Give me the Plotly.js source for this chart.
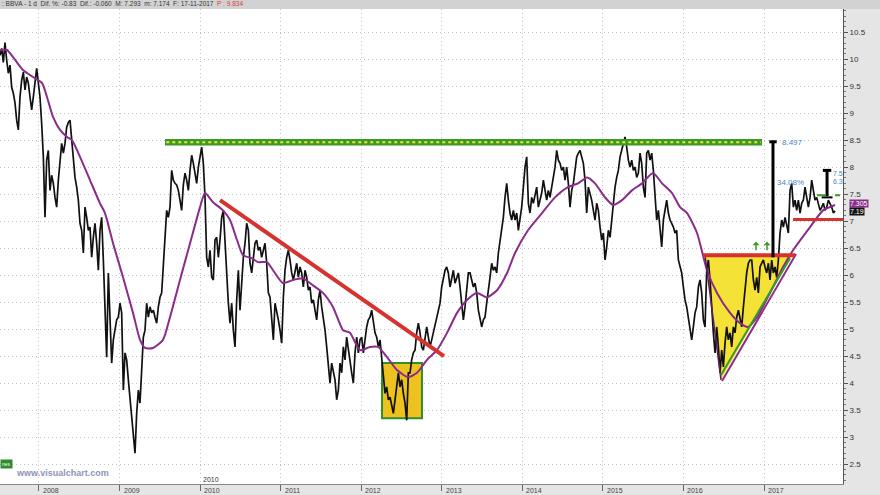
<!DOCTYPE html>
<html><head><meta charset="utf-8">
<script src="https://cdn.plot.ly/plotly-3.0.1.min.js"></script>
<style>html,body{margin:0;padding:0;background:#e6e6e6}#chart{width:880px;height:495px}</style>
</head><body><div id="chart"></div>
<script>
// BBVA daily closes, sampled about weekly (first bar ~ July 2007)
const priceStartYear = 2007.516;
const priceStepYears = 0.020689;
const price2007_2009 = [10.07,10.20,9.94,10.31,9.98,9.74,9.89,9.48,9.37,9.19,
8.87,8.69,9.30,9.61,9.76,9.43,9.67,9.56,9.30,9.06,
9.30,9.61,9.83,9.56,9.30,8.81,8.19,7.07,8.13,8.31,
7.57,7.85,7.70,7.44,7.26,7.76,8.07,8.44,8.26,8.44,
8.74,8.83,8.87,8.50,8.13,7.81,7.63,7.39,6.96,6.83,
6.41,7.26,7.07,6.83,6.89,6.33,6.70,6.96,6.59,6.09,
6.83,7.07,6.28,5.48,4.48,6.04,5.30,4.37,4.80,4.98,
5.17,5.22,5.48,5.30,3.87,4.56,4.43,4.06,3.74,3.44,
3.13,2.70,3.44,3.87,3.63,4.37,4.85,4.98,5.48,5.22,
5.41,5.30,5.35,5.22,5.11,5.41,5.59,5.67,6.22,6.70,
7.20,7.07,7.26,7.94,7.76,7.70];
const price2009_2011 = [7.67,7.57,7.39,7.20,7.67,7.89,7.76,7.57,7.94,8.22,
8.07,7.89,7.70,8.00,8.22,8.37,8.07,7.44,6.33,6.15,
6.46,5.96,5.91,6.65,6.70,6.33,6.65,7.07,7.20,6.65,
5.91,5.48,5.11,5.48,4.98,4.67,5.54,6.09,5.35,5.91,
6.33,6.59,6.96,6.83,6.22,6.04,6.33,6.59,6.65,6.46,
6.52,6.33,6.46,6.59,6.22,5.67,5.59,5.22,4.80,5.48,
5.35,5.17,4.98,4.74,5.59,6.09,6.33,6.46,6.28,6.04,
5.91,6.09,6.22,5.96,6.15,6.04,5.78,6.09,5.96,5.72,
5.78,5.48,5.54,5.35,5.17,5.54,5.72,5.41,5.22,4.98,
4.67,4.37,4.00,4.37,4.24,4.06,3.69,3.87,4.37,4.19,
4.67];
const price2011_2013 = [4.43,4.85,4.61,4.43,4.19,4.00,4.56,4.85,4.56,4.80,
4.85,4.56,4.85,5.04,5.17,5.22,5.35,5.17,4.93,4.85,
4.67,4.80,4.43,4.06,3.81,3.93,3.69,3.74,3.56,3.44,
3.69,3.93,4.19,3.93,4.06,3.81,3.63,3.31,4.19,4.19,
4.43,4.56,4.61,4.93,5.11,4.93,4.67,4.61,4.80,5.04,
4.85,4.67,4.80,4.93,5.04,5.17,5.30,5.48,5.78,5.96,
6.09,6.15,6.04,5.78,5.96,6.09,5.85,5.96,6.04,5.78,
5.41,5.17,5.41,5.78,6.04,6.04,5.91,5.78,5.85,5.67,
5.35,5.17,5.04,5.17,5.22,5.48,5.78,5.96,6.22,6.09,
6.15,6.04,6.41,6.65,6.89,7.07,7.44,7.70,7.39,7.15,
7.02];
const price2013_2015 = [7.20,7.02,7.15,6.83,7.02,7.26,7.63,8.00,8.19,7.33,
7.15,7.44,7.33,7.52,7.63,7.26,7.39,7.52,7.76,7.52,
7.39,7.57,7.44,7.63,7.81,8.00,8.31,8.13,8.07,7.94,
8.00,7.76,8.00,7.70,7.26,7.57,7.70,7.94,8.19,8.26,
8.31,8.19,8.07,7.76,7.15,7.63,7.52,7.39,7.20,7.02,
7.33,7.20,6.89,6.65,6.78,6.28,6.52,6.83,6.70,7.02,
7.26,7.63,7.81,7.94,8.19,8.31,8.44,8.56,8.37,8.13,
8.00,8.13,7.94,8.00,7.81,7.89,8.26,8.07,7.63,7.44,
8.26,8.31,8.13,8.26,7.94,7.39,7.02,7.20,6.89,6.52,
7.02,7.20,7.39,7.15,7.02,6.96,6.89,6.78,6.83,6.28,
6.15];
const price2015_2017 = [6.04,5.78,5.54,5.41,5.22,5.04,4.80,5.04,5.30,5.41,
5.78,5.91,5.67,5.17,5.04,6.09,6.28,5.91,5.30,4.93,
4.56,5.04,4.67,4.19,4.61,4.30,4.74,5.04,4.80,4.93,
4.67,5.04,4.93,5.22,5.35,5.17,5.04,5.41,5.78,6.04,
6.22,6.28,6.28,5.91,5.72,5.96,5.67,6.15,6.22,6.28,
6.15,6.04,6.22,5.91,6.28,6.04,6.15,5.96,6.28,6.78,
7.02,6.89,7.07,6.89,6.78,7.57,7.70,7.26,7.39,7.20,
7.39,7.15,7.33,7.39,7.63,7.44,7.26,7.44,7.76,7.57,
7.39,7.44,7.33,7.20,7.26,7.33,7.20,7.26,7.39,7.33,
7.26,7.15,7.19];

// Purple moving average
const maYears = [2007.516,2007.603,2007.677,2007.801,2007.926,2008.037,2008.099,2008.174,2008.261,2008.348,
2008.410,2008.509,2008.633,2008.757,2008.819,2008.919,2009.043,2009.167,2009.254,2009.316,
2009.415,2009.539,2009.626,2009.750,2009.875,2009.999,2010.061,2010.160,2010.284,2010.371,
2010.458,2010.532,2010.644,2010.719,2010.830,2010.905,2011.029,2011.153,2011.277,2011.401,
2011.525,2011.649,2011.774,2011.860,2011.985,2012.109,2012.208,2012.320,2012.444,2012.581,
2012.692,2012.816,2012.940,2013.065,2013.189,2013.313,2013.437,2013.561,2013.685,2013.810,
2013.909,2014.070,2014.244,2014.405,2014.567,2014.691,2014.803,2014.902,2015.026,2015.125,
2015.237,2015.361,2015.485,2015.622,2015.734,2015.858,2015.957,2016.044,2016.168,2016.292,
2016.416,2016.578,2016.702,2016.801,2016.913,2017.074,2017.236,2017.360,2017.571,2017.732,2017.881];
const maValues = [10.17,10.17,10.04,9.80,9.67,9.56,9.30,8.93,8.69,8.56,
8.50,8.19,7.76,7.33,7.15,6.59,5.96,5.30,4.80,4.65,
4.65,4.80,5.22,5.91,6.59,7.26,7.52,7.35,7.20,7.02,
6.65,6.37,6.31,6.24,6.24,6.09,5.85,5.91,5.94,5.81,
5.67,5.41,4.98,4.93,4.61,4.67,4.67,4.48,4.24,4.11,
4.19,4.43,4.61,4.93,5.30,5.54,5.67,5.59,5.72,6.04,
6.41,6.83,7.15,7.44,7.63,7.70,7.81,7.70,7.44,7.30,
7.39,7.57,7.70,7.89,7.70,7.52,7.26,7.15,6.78,6.09,
5.67,5.30,5.11,5.04,5.22,5.67,6.15,6.46,6.89,7.20,7.30];

const yearTicks = [2008,2009,2010,2011,2012,2013,2014,2015,2016,2017];
const yTicks = [2.5,3,3.5,4,4.5,5,5.5,6,6.5,7,7.5,8,8.5,9,9.5,10,10.5];
const headerText = ': BBVA - 1 d  Dif. %: -0.83  Dif.: -0.060  M: 7.293  m: 7.174  F: 17-11-2017  ';
const headerPrice = 'P : 9.834';
const lastClose = '7.19';
const lastAverage = '7.305';

const price = [].concat(price2007_2009, price2009_2011, price2011_2013, price2013_2015, price2015_2017);
const priceX = price.map((v, i) => priceStartYear + i * priceStepYears);

const FONT = 'Liberation Sans, Arial, sans-serif';
const RED = '#d6322e', GREEN = '#3a9a26', PURPLE = '#8a2c8a';

const traces = [
  {x: priceX, y: price, type: 'scatter', mode: 'lines', line: {color: '#111', width: 1.7}, hoverinfo: 'skip'},
  {x: maYears, y: maValues, type: 'scatter', mode: 'lines', line: {color: PURPLE, width: 2, shape: 'spline', smoothing: 0.6}, hoverinfo: 'skip'}
];

function seg(x0, y0, x1, y1, color, width, extra) {
  return Object.assign({type: 'line', xref: 'x', yref: 'y', x0, y0, x1, y1, line: {color, width}, layer: 'above'}, extra || {});
}

const shapes = [
  {type: 'rect', xref: 'paper', yref: 'paper', x0: 0, x1: 1.05, y0: 1, y1: 1.025, fillcolor: '#d2d2d2', line: {width: 0}, layer: 'below'},
  // resistance band
  {type: 'rect', xref: 'x', yref: 'y', x0: 2009.564, x1: 2016.975, y0: 8.40, y1: 8.52, fillcolor: GREEN, line: {width: 0}, layer: 'above'},
  seg(2009.58, 8.46, 2016.96, 8.46, '#f2e62e', 2, {line: {color: '#f2e62e', width: 2, dash: 'dot'}}),
  // yellow box
  {type: 'rect', xref: 'x', yref: 'y', x0: 2012.258, x1: 2012.754, y0: 3.35, y1: 4.37, fillcolor: '#eec21e', line: {color: '#2f8f2a', width: 2}, layer: 'between'},
  // triangle
  {type: 'path', xref: 'x', yref: 'y', path: 'M2016.267,6.37 L2017.347,6.37 L2016.466,4.06 Z', fillcolor: '#f4e236', line: {width: 0}, layer: 'between'},
  seg(2016.267, 6.37, 2016.466, 4.06, '#5a1f5a', 1.5),
  seg(2016.466, 4.15, 2017.322, 6.31, GREEN, 2),
  seg(2016.478, 4.04, 2017.397, 6.39, PURPLE, 2),
  seg(2016.242, 6.37, 2017.385, 6.37, RED, 4),
  // falling trendline
  seg(2010.247, 7.39, 2013.027, 4.50, RED, 4),
  // right support line
  seg(2017.360, 7.03, 2017.980, 7.03, RED, 3),
  // projection bars
  seg(2017.111, 8.47, 2017.111, 6.33, '#000', 3),
  seg(2017.065, 8.47, 2017.157, 8.47, '#000', 3),
  seg(2017.782, 7.94, 2017.782, 7.46, '#000', 3),
  seg(2017.730, 7.94, 2017.834, 7.94, '#000', 3),
  seg(2017.715, 7.44, 2017.850, 7.44, '#000', 2),
  seg(2017.658, 7.48, 2017.943, 7.48, GREEN, 2, {line: {color: GREEN, width: 2, dash: 'dash'}})
];

const annotations = [
  {xref: 'paper', yref: 'paper', x: 0, y: 1.0125, xanchor: 'left', yanchor: 'middle', showarrow: false,
   text: headerText + '<span style="color:#d84040">' + headerPrice + '</span>', font: {family: FONT, size: 6.5, color: '#333'}},
  {xref: 'paper', yref: 'paper', x: 0.017, y: 0.023, xanchor: 'left', yanchor: 'middle', showarrow: false,
   text: '<b>www.visualchart.com</b>', font: {family: FONT, size: 9, color: '#8e95b8'}},
  {xref: 'paper', yref: 'paper', x: 0, y: 0.042, xanchor: 'left', yanchor: 'middle', showarrow: false,
   text: 'nes', bgcolor: '#2e8b2e', borderpad: 1, font: {family: FONT, size: 5, color: '#fff'}},
  {xref: 'x', yref: 'paper', x: 2010, y: 0.0105, xanchor: 'left', yanchor: 'middle', xshift: 1, showarrow: false,
   text: '2010', font: {family: FONT, size: 7, color: '#333'}},
  {xref: 'x', yref: 'y', x: 2017.20, y: 8.46, xanchor: 'left', yanchor: 'middle', showarrow: false,
   text: '8.497', font: {family: FONT, size: 8, color: '#4a86c8'}},
  {xref: 'x', yref: 'y', x: 2017.14, y: 7.72, xanchor: 'left', yanchor: 'middle', showarrow: false,
   text: '34.08%', font: {family: FONT, size: 8, color: '#4a86c8'}},
  {xref: 'x', yref: 'y', x: 2017.83, y: 7.89, xanchor: 'left', yanchor: 'middle', showarrow: false,
   text: '7.5', font: {family: FONT, size: 7, color: '#4a86c8'}},
  {xref: 'x', yref: 'y', x: 2017.83, y: 7.74, xanchor: 'left', yanchor: 'middle', showarrow: false,
   text: '6.3', font: {family: FONT, size: 7, color: '#4a86c8'}},
  {xref: 'x', yref: 'y', x: 2016.90, y: 6.62, ax: 0, ay: 10, showarrow: true, arrowhead: 1, arrowsize: 0.8, arrowwidth: 1.5, arrowcolor: GREEN, text: ''},
  {xref: 'x', yref: 'y', x: 2017.037, y: 6.62, ax: 0, ay: 10, showarrow: true, arrowhead: 1, arrowsize: 0.8, arrowwidth: 1.5, arrowcolor: GREEN, text: ''},
  {xref: 'paper', yref: 'y', x: 1, y: 7.33, xanchor: 'left', yanchor: 'middle', xshift: 6, showarrow: false,
   text: lastAverage, bgcolor: PURPLE, borderpad: 0, font: {family: FONT, size: 7, color: '#fff'}},
  {xref: 'paper', yref: 'y', x: 1, y: 7.17, xanchor: 'left', yanchor: 'middle', xshift: 6, showarrow: false,
   text: lastClose, bgcolor: '#111', borderpad: 0, font: {family: FONT, size: 7, color: '#fff'}}
];
yearTicks.forEach(yr => annotations.push({xref: 'x', yref: 'paper', x: yr, y: 0, xanchor: 'left', yanchor: 'top',
  xshift: 2, yshift: -1, showarrow: false, text: String(yr), font: {family: FONT, size: 7, color: '#444'}}));

const layout = {
  width: 880, height: 495,
  margin: {l: 0, r: 37, t: 9, b: 11, pad: 0},
  paper_bgcolor: '#e5e5e5', plot_bgcolor: '#ffffff',
  showlegend: false, hovermode: false,
  font: {family: FONT, size: 8, color: '#333'},
  xaxis: {type: 'linear', range: [priceStartYear, 2017.98], tickvals: yearTicks, showticklabels: false,
    ticks: 'outside', ticklen: 6, tickcolor: '#666', showline: true, linecolor: '#888', linewidth: 1, mirror: false,
    showgrid: true, gridcolor: '#c4c4c4', griddash: '1px,3px', gridwidth: 1, zeroline: false, fixedrange: true},
  yaxis: {side: 'right', range: [2.13, 10.93], tickvals: yTicks, ticktext: yTicks.map(String),
    ticks: 'outside', ticklen: 4, tickcolor: '#555', showline: true, linecolor: '#555', linewidth: 1,
    tickfont: {family: FONT, size: 8, color: '#333'},
    minor: {dtick: 0.1, tick0: 0, ticks: 'outside', ticklen: 2, tickcolor: '#777', showgrid: false},
    showgrid: true, gridcolor: '#c4c4c4', griddash: '1px,3px', gridwidth: 1, zeroline: false, fixedrange: true},
  shapes, annotations
};

Plotly.newPlot('chart', traces, layout, {staticPlot: true, displayModeBar: false});
</script>
</body></html>
